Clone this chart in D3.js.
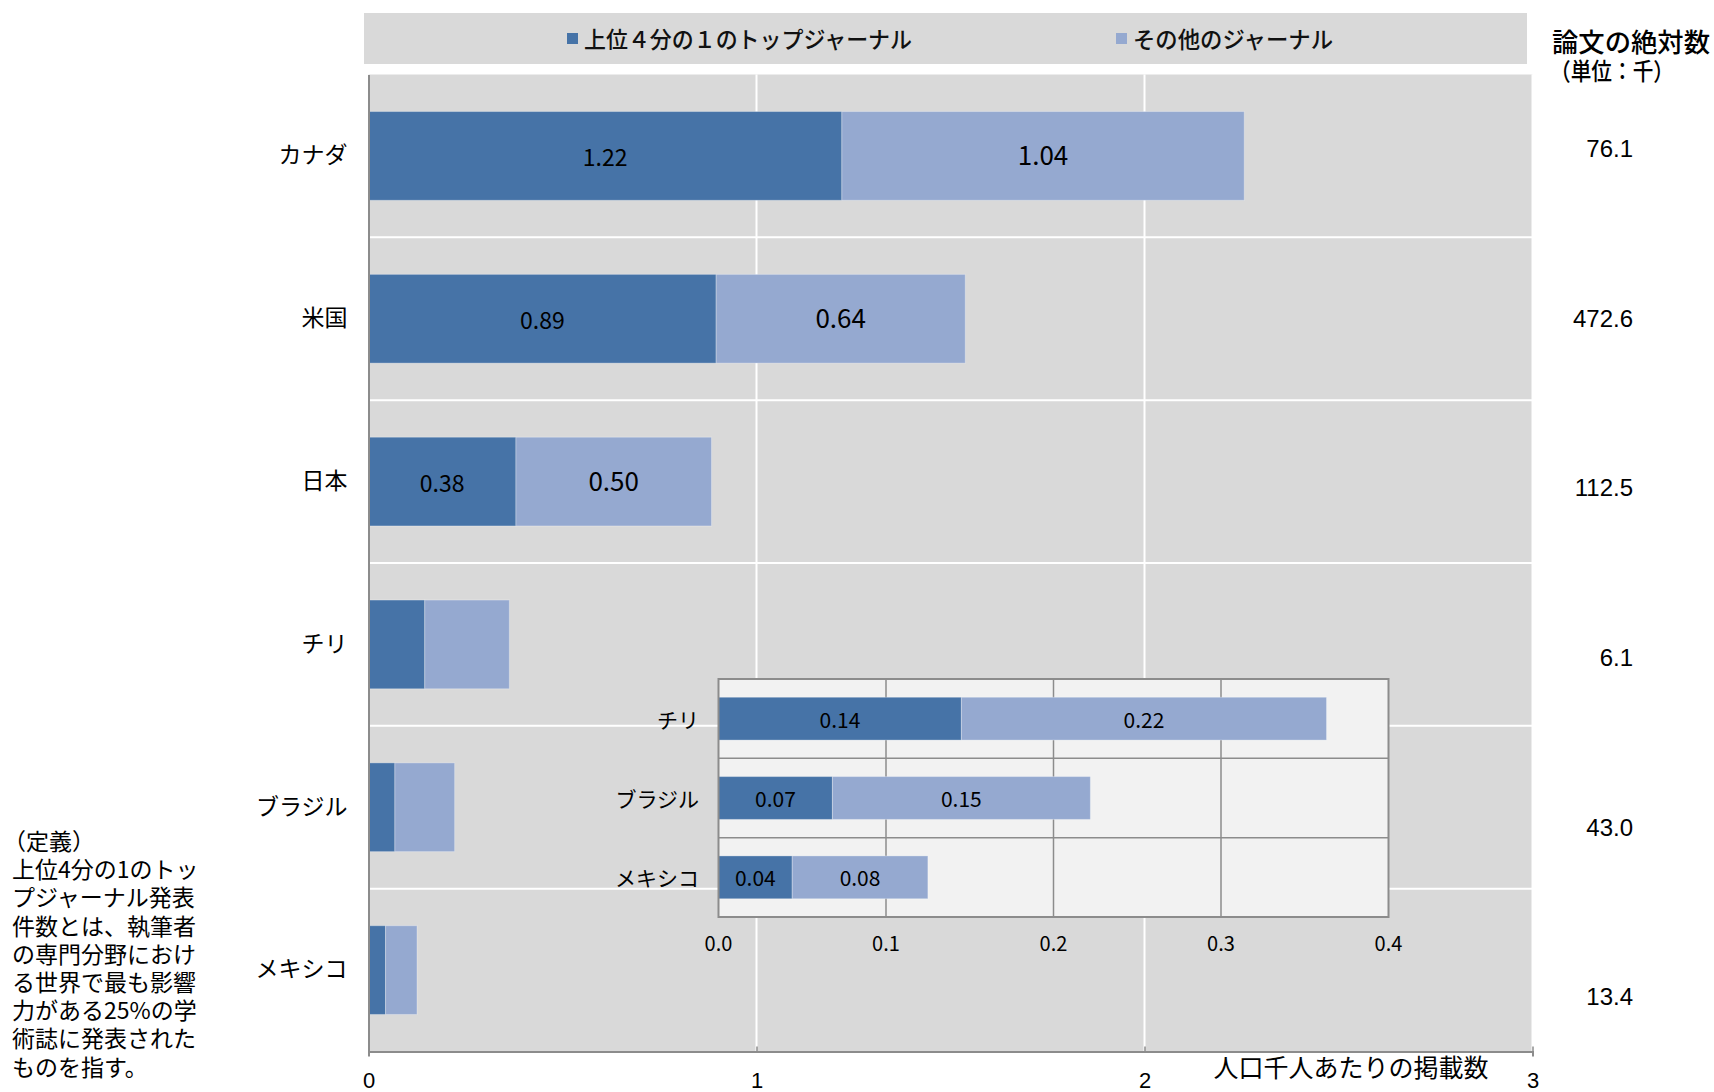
<!DOCTYPE html>
<html><head><meta charset="utf-8">
<script src="https://cdn.jsdelivr.net/npm/d3@7"></script>
<style>
html,body{margin:0;padding:0;background:#fff;}
svg{display:block;}
</style></head>
<body>
<svg id="chart" width="1714" height="1092"></svg>
<script>
// ---- data ----
const countries = ["カナダ", "米国", "日本", "チリ", "ブラジル", "メキシコ"];
// bar lengths (papers per 1000 population)
const topJournal = [1.22, 0.896, 0.38, 0.145, 0.068, 0.044];
const otherJournal = [1.037, 0.642, 0.504, 0.218, 0.154, 0.081];
// printed value labels
const topLabels = ["1.22", "0.89", "0.38", "0.14", "0.07", "0.04"];
const otherLabels = ["1.04", "0.64", "0.50", "0.22", "0.15", "0.08"];
const absoluteCount = ["76.1", "472.6", "112.5", "6.1", "43.0", "13.4"];
const labeledMain = ["カナダ", "米国", "日本"];
const insetCountries = ["チリ", "ブラジル", "メキシコ"];
const mainTicks = [0, 1, 2, 3];
const insetTicks = [0, 0.1, 0.2, 0.3, 0.4];
const seriesNames = ["上位４分の１のトップジャーナル", "その他のジャーナル"];
const definitionLines = ["（定義）", "上位4分の1のトッ", "プジャーナル発表", "件数とは、執筆者",
  "の専門分野におけ", "る世界で最も影響", "力がある25%の学", "術誌に発表された", "ものを指す。"];

const DARK = "#4673a7", LIGHT = "#95a9d0";
const JP = "'Noto Sans CJK JP', 'Noto Sans', sans-serif";
const NUM = "'Liberation Sans', Arial, sans-serif";

const rows = countries.map((c, i) => ({c, a: topJournal[i], b: otherJournal[i], la: topLabels[i], lb: otherLabels[i], n: absoluteCount[i]}));
const svg = d3.select("#chart");

// ---- main chart ----
const x = d3.scaleLinear().domain([0, 3]).range([368.5, 1532.5]);
const y = d3.scaleBand().domain(countries).range([74.5, 1051.5]).paddingInner(0.455).paddingOuter(0.2275);
const step = y.step();

svg.append("rect").attr("x", x(0)).attr("y", 74.5).attr("width", x(3) - x(0)).attr("height", 1051.5 - 74.5).attr("fill", "#d9d9d9");

svg.append("g").selectAll("line").data(mainTicks.slice(1)).join("line")
  .attr("x1", d => x(d)).attr("x2", d => x(d)).attr("y1", 74.5).attr("y2", 1051.5)
  .attr("stroke", "#fff").attr("stroke-width", 2);
svg.append("g").selectAll("line").data(countries.slice(1)).join("line")
  .attr("x1", x(0)).attr("x2", x(3))
  .attr("y1", d => y(d) - (step - y.bandwidth()) / 2).attr("y2", d => y(d) - (step - y.bandwidth()) / 2)
  .attr("stroke", "#fff").attr("stroke-width", 2);

const gBars = svg.append("g");
gBars.selectAll(".a").data(rows).join("rect")
  .attr("x", x(0)).attr("y", d => y(d.c)).attr("width", d => x(d.a) - x(0)).attr("height", y.bandwidth())
  .attr("fill", DARK).attr("stroke", "#ffffff").attr("stroke-opacity", 0.3).attr("stroke-width", 1);
gBars.selectAll(".b").data(rows).join("rect")
  .attr("x", d => x(d.a)).attr("y", d => y(d.c)).attr("width", d => x(d.a + d.b) - x(d.a)).attr("height", y.bandwidth())
  .attr("fill", LIGHT).attr("stroke", "#ffffff").attr("stroke-opacity", 0.3).attr("stroke-width", 1);

const lab = rows.filter(d => labeledMain.includes(d.c));
svg.append("g").selectAll("text").data(lab).join("text")
  .attr("x", d => (x(0) + x(d.a)) / 2).attr("y", d => y(d.c) + y.bandwidth() / 2)
  .attr("text-anchor", "middle").attr("dominant-baseline", "central")
  .attr("font-family", JP).attr("font-size", 23).attr("fill", "#000")
  .text(d => d.la);
svg.append("g").selectAll("text").data(lab).join("text")
  .attr("x", d => (x(d.a) + x(d.a + d.b)) / 2).attr("y", d => y(d.c) + y.bandwidth() / 2 - 2)
  .attr("text-anchor", "middle").attr("dominant-baseline", "central")
  .attr("font-family", JP).attr("font-size", 26).attr("fill", "#000")
  .text(d => d.lb);

// axes
const xAxis = svg.append("g").attr("transform", "translate(0,1051.5)")
  .call(d3.axisBottom(x).tickValues(mainTicks).tickSize(5).tickFormat(d3.format("d")));
xAxis.select(".domain").attr("stroke", "#8c8c8c").attr("stroke-width", 2);
xAxis.selectAll(".tick line").attr("stroke", "#8c8c8c").attr("stroke-width", 1.5).attr("y1", -5).attr("y2", 0);
xAxis.selectAll(".tick text").attr("font-family", NUM).attr("font-size", 22).attr("fill", "#000").attr("y", 21).attr("dy", "0.71em");

const yAxis = svg.append("g").attr("transform", "translate(368.5,0)")
  .call(d3.axisLeft(y).tickSize(0).tickPadding(21));
yAxis.select(".domain").attr("stroke", "#8c8c8c").attr("stroke-width", 2);
yAxis.selectAll(".tick text").attr("font-family", JP).attr("font-size", 23).attr("fill", "#000");

svg.append("text").attr("x", 1351).attr("y", 1066).attr("text-anchor", "middle").attr("dominant-baseline", "central")
  .attr("font-family", JP).attr("font-size", 25).attr("fill", "#000").text("人口千人あたりの掲載数");

// ---- legend ----
svg.append("rect").attr("x", 364).attr("y", 13).attr("width", 1163).attr("height", 51).attr("fill", "#d9d9d9");
const legendX = [567, 1116];
const legendW = [328, 200];
seriesNames.forEach((s, i) => {
  svg.append("rect").attr("x", legendX[i]).attr("y", 33).attr("width", 11).attr("height", 11).attr("fill", i ? LIGHT : DARK);
  svg.append("text").attr("x", legendX[i] + 17).attr("y", 37.5).attr("dominant-baseline", "central")
    .attr("font-family", JP).attr("font-size", 23).attr("font-weight", 500).attr("fill", "#111")
    .attr("textLength", legendW[i]).attr("lengthAdjust", "spacingAndGlyphs").text(s);
});

// ---- right column ----
svg.append("text").attr("x", 1552).attr("y", 40).attr("dominant-baseline", "central")
  .attr("font-family", JP).attr("font-size", 26).attr("font-weight", 500).attr("fill", "#000")
  .attr("textLength", 158).attr("lengthAdjust", "spacingAndGlyphs").text("論文の絶対数");
svg.append("text").attr("x", 1550).attr("y", 69).attr("dominant-baseline", "central")
  .attr("font-family", JP).attr("font-size", 24).attr("font-weight", 500).attr("fill", "#000")
  .attr("textLength", 124).attr("lengthAdjust", "spacingAndGlyphs").text("（単位：千）");
const yr = d3.scalePoint().domain(countries).range([148.7, 996.9]);
svg.append("g").selectAll("text").data(rows).join("text")
  .attr("x", 1633).attr("y", d => yr(d.c)).attr("text-anchor", "end").attr("dominant-baseline", "central")
  .attr("font-family", NUM).attr("font-size", 24).attr("fill", "#000").text(d => d.n);

// ---- definition text ----
svg.append("g").selectAll("text").data(definitionLines).join("text")
  .attr("x", (d, i) => i === 0 ? 3 : 12).attr("y", (d, i) => 840 + i * 28.2).attr("dominant-baseline", "central")
  .attr("font-family", JP).attr("font-size", 23).attr("fill", "#000").text(d => d);

// ---- inset ----
const insetRows = rows.filter(d => insetCountries.includes(d.c));
const xi = d3.scaleLinear().domain([0, 0.4]).range([718.5, 1388.5]);
const yi = d3.scaleBand().domain(insetCountries).range([679, 917]).paddingInner(0.46).paddingOuter(0.23);
const stepI = yi.step();
const gi = svg.append("g");
gi.append("rect").attr("x", xi(0)).attr("y", 679).attr("width", xi(0.4) - xi(0)).attr("height", 917 - 679).attr("fill", "#f2f2f2");
gi.append("g").selectAll("line").data(insetTicks.slice(1, -1)).join("line")
  .attr("x1", d => xi(d)).attr("x2", d => xi(d)).attr("y1", 679).attr("y2", 917)
  .attr("stroke", "#8c8c8c").attr("stroke-width", 1.5);
gi.append("g").selectAll("line").data(insetCountries.slice(1)).join("line")
  .attr("x1", xi(0)).attr("x2", xi(0.4))
  .attr("y1", d => yi(d) - (stepI - yi.bandwidth()) / 2).attr("y2", d => yi(d) - (stepI - yi.bandwidth()) / 2)
  .attr("stroke", "#8c8c8c").attr("stroke-width", 1.5);
gi.selectAll(".ia").data(insetRows).join("rect")
  .attr("x", xi(0)).attr("y", d => yi(d.c)).attr("width", d => xi(d.a) - xi(0)).attr("height", yi.bandwidth())
  .attr("fill", DARK).attr("stroke", "#ffffff").attr("stroke-opacity", 0.3).attr("stroke-width", 1);
gi.selectAll(".ib").data(insetRows).join("rect")
  .attr("x", d => xi(d.a)).attr("y", d => yi(d.c)).attr("width", d => xi(d.a + d.b) - xi(d.a)).attr("height", yi.bandwidth())
  .attr("fill", LIGHT).attr("stroke", "#ffffff").attr("stroke-opacity", 0.3).attr("stroke-width", 1);
gi.append("rect").attr("x", xi(0)).attr("y", 679).attr("width", xi(0.4) - xi(0)).attr("height", 917 - 679)
  .attr("fill", "none").attr("stroke", "#8c8c8c").attr("stroke-width", 2);
gi.append("g").selectAll("text").data(insetRows).join("text")
  .attr("x", d => (xi(0) + xi(d.a)) / 2).attr("y", d => yi(d.c) + yi.bandwidth() / 2)
  .attr("text-anchor", "middle").attr("dominant-baseline", "central")
  .attr("font-family", JP).attr("font-size", 21).attr("fill", "#000").text(d => d.la);
gi.append("g").selectAll("text").data(insetRows).join("text")
  .attr("x", d => (xi(d.a) + xi(d.a + d.b)) / 2).attr("y", d => yi(d.c) + yi.bandwidth() / 2)
  .attr("text-anchor", "middle").attr("dominant-baseline", "central")
  .attr("font-family", JP).attr("font-size", 21).attr("fill", "#000").text(d => d.lb);
gi.append("g").selectAll("text").data(insetCountries).join("text")
  .attr("x", 699).attr("y", d => yi(d) + yi.bandwidth() / 2).attr("text-anchor", "end").attr("dominant-baseline", "central")
  .attr("font-family", JP).attr("font-size", 21).attr("fill", "#000").text(d => d);
gi.append("g").selectAll("text").data(insetTicks).join("text")
  .attr("x", d => xi(d)).attr("y", 942).attr("text-anchor", "middle").attr("dominant-baseline", "central")
  .attr("font-family", JP).attr("font-size", 20).attr("fill", "#000").text(d => d3.format(".1f")(d));
</script>
</body></html>
